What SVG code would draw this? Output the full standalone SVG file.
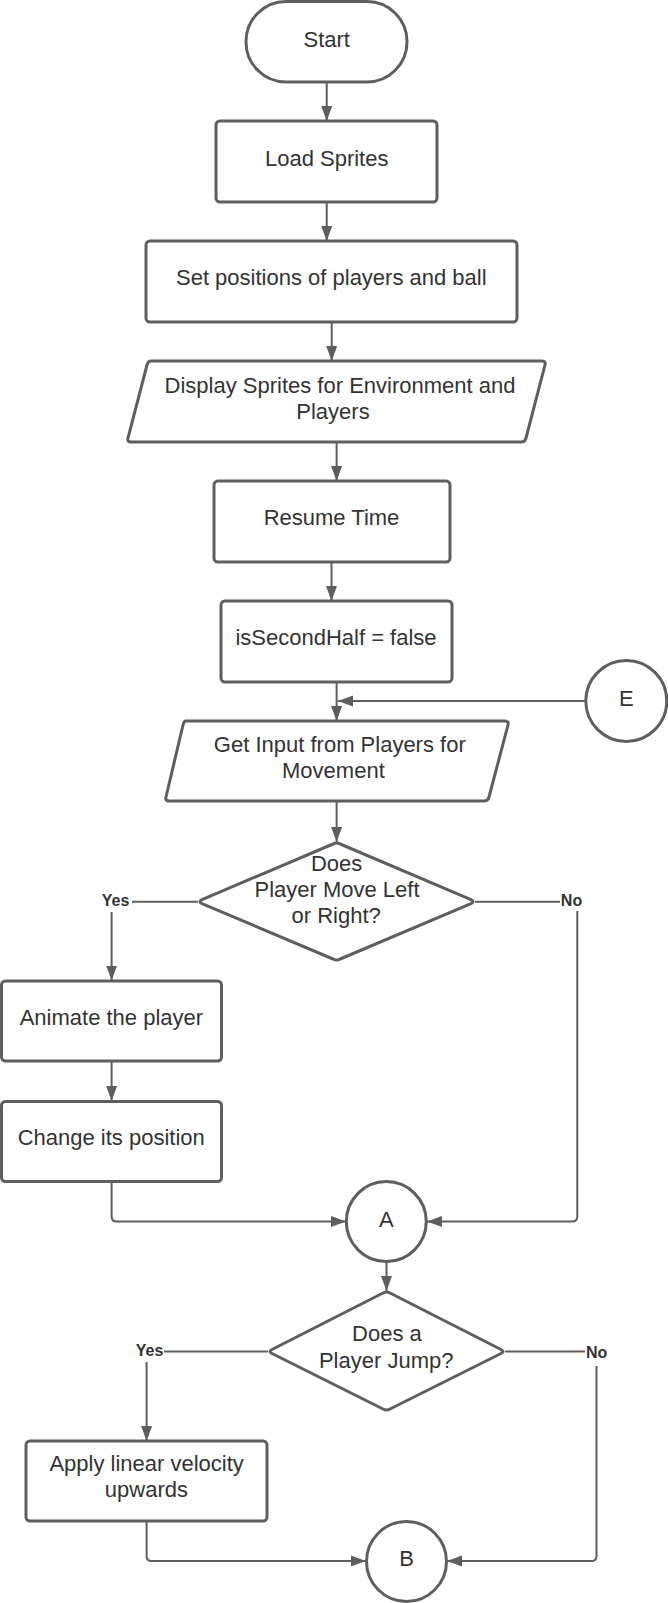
<svg xmlns="http://www.w3.org/2000/svg" width="668" height="1603" viewBox="0 0 668 1603">
<style>
.s{fill:#fff;stroke:#5e5e5e;stroke-width:3;stroke-linejoin:round}
.c{fill:none;stroke:#5e5e5e;stroke-width:2}
.t{font-family:"Liberation Sans",Arial,sans-serif;font-size:22px;fill:#333;text-anchor:middle}
.l{font-family:"Liberation Sans",Arial,sans-serif;font-size:16px;font-weight:bold;fill:#333;text-anchor:middle}
</style>
<defs>
<marker id="ah" markerUnits="userSpaceOnUse" markerWidth="16" markerHeight="12" refX="15" refY="6" orient="auto">
<path d="M0,0.5 L15,6 L0,11.5 z" fill="#5e5e5e"/>
</marker>
</defs>
<rect width="668" height="1603" fill="#fff"/>
<g id="connectors">
<path class="c" d="M326.7,82 V121" marker-end="url(#ah)"/>
<path class="c" d="M326.7,202 V241" marker-end="url(#ah)"/>
<path class="c" d="M331.7,322 V361" marker-end="url(#ah)"/>
<path class="c" d="M336.6,442 V481" marker-end="url(#ah)"/>
<path class="c" d="M331.5,562 V601" marker-end="url(#ah)"/>
<path class="c" d="M336.6,682 V721" marker-end="url(#ah)"/>
<path class="c" d="M586,701 H338" marker-end="url(#ah)"/>
<path class="c" d="M336.6,801 V842" marker-end="url(#ah)"/>
<path class="c" d="M198,901.7 H132" stroke-width="1.6"/>
<path class="c" d="M111.6,912 V980.5" marker-end="url(#ah)"/>
<path class="c" d="M475,901.7 H560" stroke-width="1.6"/>
<path class="c" d="M577.3,911 V1216.4 Q577.3,1221.4 572.3,1221.4 H427" marker-end="url(#ah)"/>
<path class="c" d="M111.6,1061 V1101" marker-end="url(#ah)"/>
<path class="c" d="M111.6,1182 V1216.4 Q111.6,1221.4 116.6,1221.4 H346" marker-end="url(#ah)"/>
<path class="c" d="M386.5,1262 V1291" marker-end="url(#ah)"/>
<path class="c" d="M268,1351.5 H164" stroke-width="1.6"/>
<path class="c" d="M146.6,1362 V1441" marker-end="url(#ah)"/>
<path class="c" d="M505,1351.5 H585" stroke-width="1.6"/>
<path class="c" d="M596.5,1366 V1556 Q596.5,1561 591.5,1561 H447" marker-end="url(#ah)"/>
<path class="c" d="M146.6,1521 V1556 Q146.6,1561 151.6,1561 H366" marker-end="url(#ah)"/>
<text class="l" x="115.5" y="906">Yes</text>
<text class="l" x="571.5" y="906">No</text>
<text class="l" x="149.5" y="1356">Yes</text>
<text class="l" x="596.7" y="1358">No</text>
</g>
<g id="start">
<rect class="s" x="246" y="1.5" width="161" height="80.5" rx="40"/>
<text class="t" x="326.7" y="46.7">Start</text>
</g>
<g id="load">
<rect class="s" x="216" y="121" width="221" height="81" rx="4"/>
<text class="t" x="326.7" y="165.7">Load Sprites</text>
</g>
<g id="setpos">
<rect class="s" x="146" y="241" width="371" height="81" rx="4"/>
<text class="t" x="331.3" y="285">Set positions of players and ball</text>
</g>
<g id="display">
<path class="s" d="M151,361 H542 Q546,361 545,365 L526,438 Q525,442 521,442 H131 Q127,442 128,438 L147,365 Q148,361 151,361 z"/>
<text class="t" x="340" y="393.3">Display Sprites for Environment and</text>
<text class="t" x="333" y="419.3">Players</text>
</g>
<g id="resume">
<rect class="s" x="214" y="481" width="236" height="81" rx="4"/>
<text class="t" x="331.5" y="525">Resume Time</text>
</g>
<g id="issecond">
<rect class="s" x="221" y="601" width="231" height="81" rx="4"/>
<text class="t" x="336" y="645">isSecondHalf = false</text>
</g>
<g id="e">
<circle class="s" cx="626.3" cy="701" r="40.5"/>
<text class="t" x="626.3" y="706">E</text>
</g>
<g id="getinput">
<path class="s" d="M186,721 H505 Q509,721 508,725 L489,797 Q488,801 484,801 H169 Q165,801 166,797 L183,725 Q184,721 186,721 z"/>
<text class="t" x="339.8" y="751.7">Get Input from Players for</text>
<text class="t" x="333.4" y="778.3">Movement</text>
</g>
<g id="dec1">
<path class="s" d="M333,844 Q336.6,842 340.2,844 L471,899.7 Q475,901.7 471,903.7 L340.2,959 Q336.6,961 333,959 L202,903.7 Q198,901.7 202,899.7 z"/>
<text class="t" x="336.6" y="870.7">Does</text>
<text class="t" x="337" y="896.7">Player Move Left</text>
<text class="t" x="336.2" y="923.3">or Right?</text>
</g>
<g id="animate">
<rect class="s" x="1.5" y="981" width="220" height="80" rx="4"/>
<text class="t" x="111.4" y="1024.8">Animate the player</text>
</g>
<g id="change">
<rect class="s" x="1.5" y="1101.5" width="220" height="80" rx="4"/>
<text class="t" x="111.2" y="1145.3">Change its position</text>
</g>
<g id="a">
<circle class="s" cx="386.3" cy="1221.6" r="40"/>
<text class="t" x="386.3" y="1226.5">A</text>
</g>
<g id="dec2">
<path class="s" d="M383,1293 Q386.5,1291 390,1293 L501,1349.5 Q505,1351.5 501,1353.5 L390,1409 Q386.5,1411 383,1409 L272,1353.5 Q268,1351.5 272,1349.5 z"/>
<text class="t" x="386.9" y="1341.3">Does a</text>
<text class="t" x="386.2" y="1368">Player Jump?</text>
</g>
<g id="apply">
<rect class="s" x="26" y="1441" width="241" height="80" rx="4"/>
<text class="t" x="146.6" y="1470.5">Apply linear velocity</text>
<text class="t" x="146.4" y="1497.1">upwards</text>
</g>
<g id="b">
<circle class="s" cx="406.5" cy="1561.5" r="40"/>
<text class="t" x="406.5" y="1566">B</text>
</g>
</svg>
